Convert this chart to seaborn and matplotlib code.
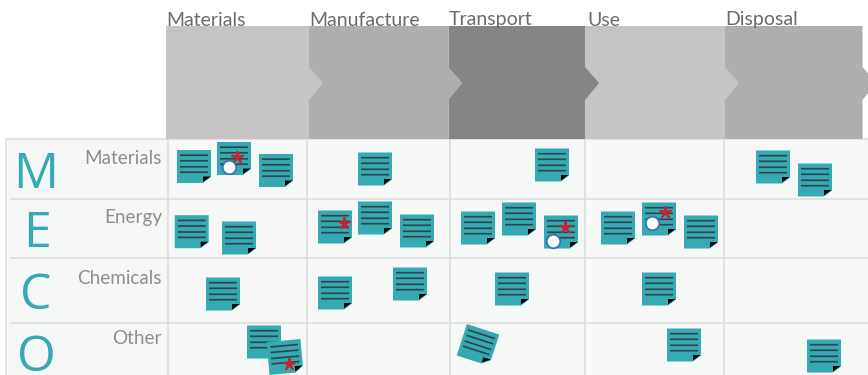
import numpy as np
import pandas as pd
import matplotlib
matplotlib.use("Agg")
import matplotlib.pyplot as plt
from matplotlib.markers import MarkerStyle
from matplotlib.path import Path
from matplotlib.transforms import Affine2D
import seaborn as sns

stages = ["Materials", "Manufacture", "Transport", "Use", "Disposal"]
stage_edges = [166, 309, 448.5, 585, 725, 862.5]
stage_label_x = [166, 309, 449, 587, 725]
stage_colors = ["#c4c4c4", "#aeaeae", "#858585", "#c4c4c4", "#aeaeae"]

rows = ["Materials", "Energy", "Chemicals", "Other"]
letters = ["M", "E", "C", "O"]
row_label_y = [158, 218, 278, 338]
letter_base = [188, 247, 309, 371]
letter_x = [36, 37, 36, 36]
h_lines = [139, 199, 258, 323]
v_lines = [168, 307, 449.5, 585, 724]

note_x = [194, 234, 276, 191.7, 239, 223, 264, 375, 335, 375, 417, 335, 410,
          552, 478, 519, 561, 512, 618, 659, 701, 659, 684, 773, 815, 824, 285, 478]
note_y = [166.5, 158.5, 170.5, 231.7, 238, 294, 342, 169, 227, 218, 231, 293, 284,
          165, 228, 219, 232, 289, 228, 219, 232, 289, 345, 167, 180, 356, 357, 345]
note_angle = [0] * 26 + [5, -18]

star_x = [236.7, 344, 565, 665, 289]
star_y = [156.7, 223, 226.7, 211.7, 364]
circle_x = [228.7, 552.7, 652]
circle_y = [167, 240.7, 223]

teal = "#35aab3"


def rect(x0, y0, x1, y1):
    return [(x0, y0), (x1, y0), (x1, y1), (x0, y1), (x0, y0)]


def make_path(polys):
    verts, codes = [], []
    for p in polys:
        verts += p
        codes += [Path.MOVETO] + [Path.LINETO] * (len(p) - 2) + [Path.CLOSEPOLY]
    return Path(verts, codes)


# note shapes, in pixels around the centre of the note (y up)
body = make_path([[(-17, 16.5), (17, 16.5), (17, -10.5), (9, -16.5), (-17, -16.5), (-17, 16.5)]])
fold = make_path([[(9, -10), (16.5, -10), (9, -15.5), (9, -10)]])
lines = make_path([rect(-14, y - 0.85, 14, y + 0.85) for y in [11.3, 5.7, -0.3, -5.7]])


def draw_shape(ax, df, path, color, angle, z):
    # marker paths get scaled to s, so work s out from the biggest vertex
    size_px = 2 * np.abs(path.vertices).max()
    marker = MarkerStyle(path, transform=Affine2D().rotate_deg(angle))
    sns.scatterplot(data=df, x="x", y="y", marker=marker, s=(size_px * 0.72) ** 2,
                    color=color, edgecolor="none", linewidth=0, ax=ax, zorder=z, legend=False)
    ax.collections[-1].set_snap(False)


sns.set_style("white")
plt.rcParams["font.family"] = ["Lato", "DejaVu Sans"]

fig = plt.figure(figsize=(8.68, 3.75), dpi=100)
ax = fig.add_axes([0, 0, 1, 1])

# panel and grid
ax.fill_between([6, 868], 139, 375, color="#f6f7f7", lw=0, zorder=0)
ax.plot([6, 6], [139, 375], color="#dfe1e1", lw=1.2, zorder=1)
for y in h_lines:
    ax.plot([6 if y == 139 else 11, 868], [y, y], color="#dcdede", lw=1.2, zorder=1)
for x in v_lines:
    ax.plot([x, x], [139, 375], color="#dcdede", lw=1.2, zorder=1)

# chevrons, each one pokes over the next
for i, name in enumerate(stages):
    x0, x1 = stage_edges[i], stage_edges[i + 1]
    ax.fill([x0, x1, x1, x1 + 14, x1, x1, x0], [26, 26, 67, 83, 100, 139, 139],
            color=stage_colors[i], lw=0, zorder=10 - i)
    ax.text(stage_label_x[i], 20, name, fontsize=14, color="#6a6a6a", ha="left", va="center",
            zorder=20)

# row labels
for name, y in zip(rows, row_label_y):
    ax.text(162, y, name, fontsize=13.6, color="#8e8e8e", ha="right", va="center", zorder=20)
for ch, x, y in zip(letters, letter_x, letter_base):
    ax.text(x, y, ch, fontsize=36, color=teal, ha="center", va="baseline", zorder=20,
            family="Open Sans")

notes = pd.DataFrame({"x": note_x, "y": note_y, "angle": note_angle})
z = 30
for angle, group in notes.groupby("angle", sort=False):
    draw_shape(ax, group, body, teal, angle, z)
    draw_shape(ax, group, lines, "#2f454d", angle, z + 1)
    draw_shape(ax, group, fold, "black", angle, z + 2)
    z += 3

stars = pd.DataFrame({"x": star_x, "y": star_y})
circles = pd.DataFrame({"x": circle_x, "y": circle_y})
sns.scatterplot(data=stars, x="x", y="y", marker=(5, 2, 0), s=60, color="#c4252f",
                linewidth=1.6, ax=ax, zorder=50, legend=False)
sns.scatterplot(data=circles, x="x", y="y", marker="o", s=95, color="white",
                edgecolor="#3a6fb5", linewidth=1.3, ax=ax, zorder=51, legend=False)

ax.set_xlim(0, 868)
ax.set_ylim(375, 0)
ax.axis("off")

fig.savefig("out.png", dpi=100)
